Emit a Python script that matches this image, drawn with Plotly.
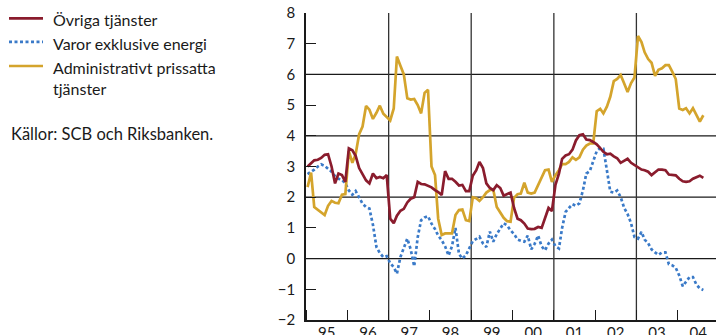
import pandas as pd
import plotly.graph_objects as go

# Monthly observations, January 1995 onwards (annual percentage change)
start_month = "1995-01-01"

ovriga_tjanster = [
    3.0, 3.1, 3.2, 3.22, 3.28, 3.38, 3.4, 3.0, 2.45, 2.77, 2.72, 2.5,
    3.59, 3.53, 3.35, 2.95, 2.75, 2.55, 2.45, 2.77, 2.62, 2.66, 2.62, 2.72,
    1.3, 1.15, 1.4, 1.56, 1.62, 1.83, 1.95, 2.0, 2.5, 2.43, 2.42, 2.38,
    2.32, 2.23, 2.17, 2.07, 2.85, 2.6, 2.6, 2.5, 2.38, 2.4, 2.2, 2.2,
    2.7, 2.88, 3.15, 2.95, 2.45, 2.3, 2.23, 2.39, 2.3, 2.05, 2.1, 2.15,
    1.65, 1.3, 1.25, 1.14, 0.98, 0.96, 0.97, 1.03, 1.0, 1.3, 1.65, 1.55,
    2.4, 2.77, 3.25, 3.36, 3.4, 3.55, 3.85, 4.02, 4.05, 3.88, 3.86, 3.8,
    3.72, 3.6, 3.48, 3.4, 3.42, 3.33, 3.27, 3.12, 3.2, 3.25, 3.12, 3.05,
    2.95, 2.9, 2.88, 2.83, 2.72, 2.82, 2.9, 2.9, 2.88, 2.74, 2.72, 2.71,
    2.6, 2.52, 2.5, 2.52, 2.6, 2.66, 2.7, 2.63,
]

varor_exkl_energi = [
    2.75, 2.82, 2.9, 3.0, 3.07, 3.02, 2.92, 2.83, 2.68, 2.6, 2.57, 2.45,
    2.22, 2.08, 2.2, 2.01, 1.79, 1.68, 1.63, 1.1, 0.38, 0.18, 0.05, 0.08,
    -0.15, -0.28, -0.49, 0.05, 0.35, 0.65, 0.3, -0.25, 0.7, 1.25, 1.34, 1.38,
    1.14, 0.96, 0.75, 0.6, 0.4, 0.1, 0.4, 1.0, 0.15, 0.0, 0.11, 0.35,
    0.57, 0.64, 0.71, 0.49, 0.38, 0.88, 0.55, 0.8, 1.0, 1.15, 1.08, 0.92,
    0.8, 0.62, 0.58, 0.55, 0.75, 0.3, 0.48, 0.75, 0.4, 0.27, 0.49, 0.62,
    0.4, 0.33, 1.0, 1.52, 1.65, 1.77, 1.72, 1.8, 2.22, 2.77, 2.85, 3.2,
    3.5, 3.6, 3.58, 2.88, 2.18, 2.15, 2.22, 2.0, 1.65, 1.45, 1.15, 0.7,
    0.65, 0.87, 0.62, 0.5, 0.3, 0.2, 0.12, 0.2, 0.2, -0.18, -0.22, -0.3,
    -0.55, -0.9, -0.77, -0.6, -0.6, -0.85, -0.97, -1.02,
]

administrativt_prissatta = [
    2.33, 2.8, 1.68, 1.6, 1.5, 1.42, 1.72, 1.88, 1.82, 1.8, 2.08, 2.1,
    3.5, 3.12, 3.4, 4.05, 4.3, 4.97, 4.85, 4.55, 4.75, 4.98, 4.72, 4.62,
    4.5, 4.89, 6.58, 6.28, 6.0, 5.22, 5.18, 5.2, 5.0, 4.73, 5.4, 5.5,
    3.0, 2.72, 1.3, 0.77, 0.82, 0.82, 0.82, 1.42, 1.58, 1.6, 1.25, 1.22,
    2.0, 1.97, 1.88, 2.0, 2.15, 2.23, 2.25, 1.68, 1.52, 1.33, 1.22, 1.2,
    1.98, 2.1, 2.12, 2.47, 2.15, 2.12, 2.15, 2.4, 2.62, 2.88, 2.9, 2.5,
    2.72, 2.88, 3.08, 3.08, 3.15, 3.3, 3.22, 3.3, 3.55, 3.68, 3.75, 3.75,
    4.8, 4.88, 4.73, 4.95, 5.27, 5.78, 5.85, 5.98, 5.7, 5.43, 5.72, 5.9,
    7.25, 7.05, 6.72, 6.5, 6.38, 5.95, 6.15, 6.2, 6.3, 6.3, 6.08, 5.85,
    4.89, 4.84, 4.9, 4.73, 4.9, 4.7, 4.46, 4.67,
]

series_names = ["Övriga tjänster", "Varor exklusive energi", "Administrativt prissatta\ntjänster"]
series_colors = ["#8a1c2d", "#3a7ac8", "#d4a42c"]
source_text = "Källor: SCB och Riksbanken."

y_ticks = list(range(-2, 9))
y_grid = [0, 2, 4, 6]
x_grid_years = [1997, 1999, 2001, 2003]

W, H = 716, 335
L, R, T, B = 306, 0, 13, 15
PX_PER_YEAR = 41.3

dates = pd.date_range(start_month, periods=len(ovriga_tjanster), freq="MS") + pd.Timedelta(days=14)
x0 = pd.Timestamp(start_month)
x1 = x0 + pd.Timedelta(days=(W - L - R) / PX_PER_YEAR * 365.25)

DOTTED = "3px,2.5px"
fig = go.Figure()
# blue series first so it sits beneath the others
for vals, name, col, dash in [
    (varor_exkl_energi, series_names[1], series_colors[1], DOTTED),
    (administrativt_prissatta, series_names[2], series_colors[2], "solid"),
    (ovriga_tjanster, series_names[0], series_colors[0], "solid"),
]:
    fig.add_trace(go.Scatter(
        x=dates, y=vals, mode="lines", name=name.replace("\n", " "),
        line=dict(color=col, width=2.7, dash=dash),
        showlegend=False, hoverinfo="skip",
    ))

grid_col = "#1a1a1a"
shapes = []
for yv in y_grid:
    shapes.append(dict(type="line", xref="paper", yref="y", x0=0, x1=1, y0=yv, y1=yv,
                       line=dict(color=grid_col, width=1.3), layer="below"))
for yr in x_grid_years:
    d = pd.Timestamp(f"{yr}-01-01")
    shapes.append(dict(type="line", xref="x", yref="paper", x0=d, x1=d, y0=0, y1=1,
                       line=dict(color="#333333", width=1.3), layer="below"))


def px_x(px):
    return (px - L) / (W - L - R)


def px_y(py):
    return 1 - (py - T) / (H - T - B)


text_font = "Lato, Open Sans, sans-serif"
text_col = "#1a1a1a"
annotations = []

# hand-drawn key on the left: line sample + label rows
key_rows = [18.3, 41.8, 66.0]
row_step = 21.0
for i, (yy, col, name) in enumerate(zip(key_rows, series_colors, series_names)):
    shapes.append(dict(type="line", xref="paper", yref="paper",
                       x0=px_x(9), x1=px_x(43), y0=px_y(yy), y1=px_y(yy),
                       line=dict(color=col, width=2.7, dash=DOTTED if i == 1 else "solid")))
    for j, part in enumerate(name.split("\n")):
        annotations.append(dict(text=part, xref="paper", yref="paper",
                                x=px_x(51), y=px_y(yy + 1.5 + j * row_step),
                                xanchor="left", yanchor="middle", showarrow=False,
                                font=dict(size=16, color=text_col, family=text_font)))

annotations.append(dict(text=source_text, xref="paper", yref="paper", x=px_x(9), y=px_y(134),
                        xanchor="left", yanchor="middle", showarrow=False,
                        font=dict(size=16.5, color=text_col, family=text_font)))

fig.update_layout(
    width=W, height=H,
    margin=dict(l=L, r=R, t=T, b=B, pad=0, autoexpand=False),
    paper_bgcolor="white", plot_bgcolor="white",
    font=dict(family=text_font, size=15, color=text_col),
    shapes=shapes, annotations=annotations,
    xaxis=dict(
        type="date", range=[x0, x1], tickmode="linear", tick0=start_month, dtick="M12",
        ticklabelmode="period", tickformat="%y", ticks="inside", ticklen=10, tickwidth=1.3,
        tickcolor="#1a1a1a", showgrid=False, zeroline=False, showline=True,
        linecolor="#1a1a1a", linewidth=1.5, tickfont=dict(size=15), automargin=False,
        ticklabelstandoff=-2,
    ),
    yaxis=dict(
        range=[-2, 8], tickvals=y_ticks, ticks="inside", ticklen=10, tickwidth=1.3,
        tickcolor="#1a1a1a", showgrid=False, zeroline=False, showline=True,
        linecolor="#1a1a1a", linewidth=1.5, tickfont=dict(size=15), ticklabelstandoff=6,
        automargin=False,
    ),
    yaxis2=dict(
        range=[-2, 8], tickvals=y_ticks, overlaying="y", side="right", anchor="x",
        ticks="inside", ticklen=7, tickwidth=1.3, tickcolor="#1a1a1a",
        showticklabels=False, showgrid=False, zeroline=False, showline=False,
        automargin=False,
    ),
)

fig.write_html("out.html")
